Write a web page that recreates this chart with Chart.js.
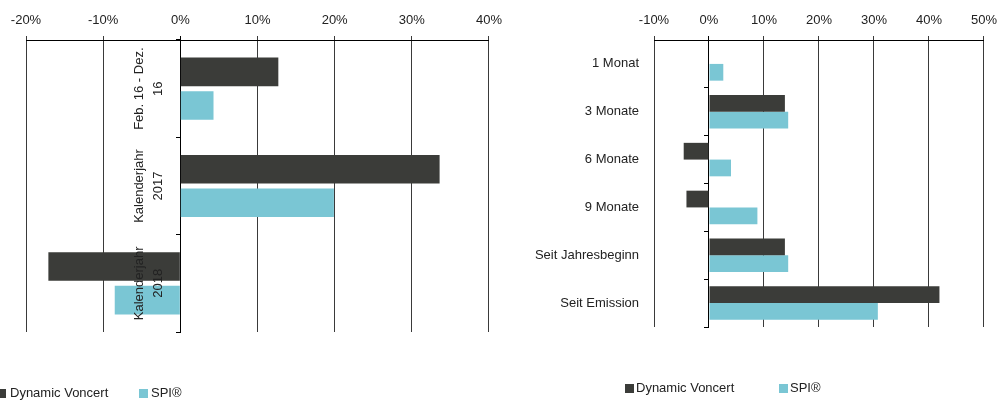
<!DOCTYPE html>
<html>
<head>
<meta charset="utf-8">
<script src="https://cdn.jsdelivr.net/npm/chart.js@4.4.1/dist/chart.umd.min.js"></script>
<style>
  html, body { margin: 0; padding: 0; background: #fff; }
  body { width: 1005px; height: 400px; position: relative; overflow: hidden;
         font-family: 'Liberation Sans', Arial, sans-serif; color: #222; }
  .wrap { position: absolute; top: 0; }
  .legend { position: absolute; font-size: 13px; line-height: 13px; white-space: nowrap; }
  .legend span.box { position: absolute; width: 9px; height: 9px; }
  .legend span.txt { position: absolute; }
</style>
</head>
<body>
<div class="wrap" style="left:0;"><canvas id="leftChart" width="510" height="400"></canvas></div>
<div class="wrap" style="left:505px;"><canvas id="rightChart" width="500" height="400"></canvas></div>
<div id="legendLeft" class="legend"></div>
<div id="legendRight" class="legend"></div>

<script>
// ---- data ----
const seriesNames = ['Dynamic Voncert', 'SPI\u00AE'];
const seriesColors = ['#3b3c39', '#7ac6d4'];

const leftCategories = [['Feb. 16 - Dez.', '16'], ['Kalenderjahr', '2017'], ['Kalenderjahr', '2018']];
const leftVoncert = [12.7, 33.6, -17.1];
const leftSpi = [4.3, 19.9, -8.5];
const leftMin = -20, leftMax = 40;

const rightCategories = ['1 Monat', '3 Monate', '6 Monate', '9 Monate', 'Seit Jahresbeginn', 'Seit Emission'];
const rightVoncert = [0, 13.8, -4.6, -4.1, 13.8, 41.9];
const rightSpi = [2.6, 14.4, 4.0, 8.8, 14.4, 30.7];
const rightMin = -10, rightMax = 50;

const FONT = "'Liberation Sans', Arial, sans-serif";
const TEXT = '#222';

// x axis shared settings (top axis with % ticks)
function xAxis(min, max) {
    return {
        type: 'linear',
        position: 'top',
        min: min,
        max: max,
        ticks: {
            stepSize: 10,
            padding: 8,
            color: TEXT,
            font: { family: FONT, size: 13 },
            callback: function(v) { return v + '%'; }
        },
        grid: {
            tickLength: 4,
            lineWidth: 1,
            color: function(c) { return c.tick && c.tick.value === 0 ? '#000' : '#3a3a3a'; }
        },
        border: { color: '#000', width: 1 },
        afterFit: function(scale) { scale.height = 40; }
    };
}

// small tick marks on the zero line between categories
function zeroTicks() {
    return {
        type: 'category',
        position: { x: 0 },
        offset: true,
        ticks: { display: false },
        grid: { offset: true, drawOnChartArea: false, tickLength: 4, color: '#000' },
        border: { display: true, color: '#000', width: 1 }
    };
}

function datasets(a, b) {
    return [
        { label: seriesNames[0], data: a, backgroundColor: seriesColors[0], borderWidth: 0 },
        { label: seriesNames[1], data: b, backgroundColor: seriesColors[1], borderWidth: 0 }
    ];
}

// widest rotated label, needed to centre the rotated text left of x = 0
const mctx = document.createElement('canvas').getContext('2d');
mctx.font = 'normal 13px ' + FONT;
let widest = 0;
leftCategories.forEach(function(lines) {
    lines.forEach(function(l) { widest = Math.max(widest, mctx.measureText(l).width); });
});

const leftPad = { left: 26, right: 18, top: 0, bottom: 68 };
const labelCentreX = 149;

new Chart(document.getElementById('leftChart'), {
    type: 'bar',
    data: { labels: leftCategories, datasets: datasets(leftVoncert, leftSpi) },
    options: {
        indexAxis: 'y',
        responsive: false,
        animation: false,
        layout: { padding: leftPad },
        datasets: { bar: { categoryPercentage: 0.69, barPercentage: 0.85 } },
        plugins: { legend: { display: false }, tooltip: { enabled: false } },
        scales: {
            x: xAxis(leftMin, leftMax),
            y: {
                type: 'category',
                position: 'left',
                offset: true,
                grid: { display: false, drawTicks: false },
                border: { display: false },
                ticks: {
                    z: 1, // labels sit on top of the bars
                    mirror: true,
                    autoSkip: false,
                    minRotation: 90,
                    maxRotation: 90,
                    crossAlign: 'center',
                    padding: labelCentreX - leftPad.left - widest / 2,
                    color: TEXT,
                    font: { family: FONT, size: 13, lineHeight: 1.4 }
                },
                afterFit: function(scale) {
                    scale.width = 0;
                    scale.paddingTop = 0;
                    scale.paddingBottom = 0;
                }
            },
            y2: zeroTicks()
        }
    }
});

new Chart(document.getElementById('rightChart'), {
    type: 'bar',
    data: { labels: rightCategories, datasets: datasets(rightVoncert, rightSpi) },
    options: {
        indexAxis: 'y',
        responsive: false,
        animation: false,
        layout: { padding: { left: 0, right: 15, top: 0, bottom: 73 } },
        datasets: { bar: { categoryPercentage: 0.70, barPercentage: 1.0 } },
        plugins: { legend: { display: false }, tooltip: { enabled: false } },
        scales: {
            x: xAxis(rightMin, rightMax),
            y: {
                type: 'category',
                position: 'left',
                offset: true,
                grid: { display: false, drawTicks: false },
                border: { display: false },
                ticks: {
                    padding: 15,
                    color: TEXT,
                    font: { family: FONT, size: 13 }
                },
                afterFit: function(scale) { scale.width = 149; }
            },
            y2: zeroTicks()
        }
    }
});

// html legends below each chart
function buildLegend(id, items) {
    const el = document.getElementById(id);
    items.forEach(function(it, i) {
        const box = document.createElement('span');
        box.className = 'box';
        box.style.left = it.box + 'px';
        box.style.top = (it.y - 4) + 'px';
        box.style.background = seriesColors[i];
        const txt = document.createElement('span');
        txt.className = 'txt';
        txt.style.left = it.text + 'px';
        txt.style.top = (it.y - 7) + 'px';
        txt.textContent = seriesNames[i];
        el.appendChild(box);
        el.appendChild(txt);
    });
}
buildLegend('legendLeft', [{ box: -3, text: 10, y: 393 }, { box: 139, text: 151, y: 393 }]);
buildLegend('legendRight', [{ box: 625, text: 636, y: 388 }, { box: 779, text: 790, y: 388 }]);
</script>
</body>
</html>
